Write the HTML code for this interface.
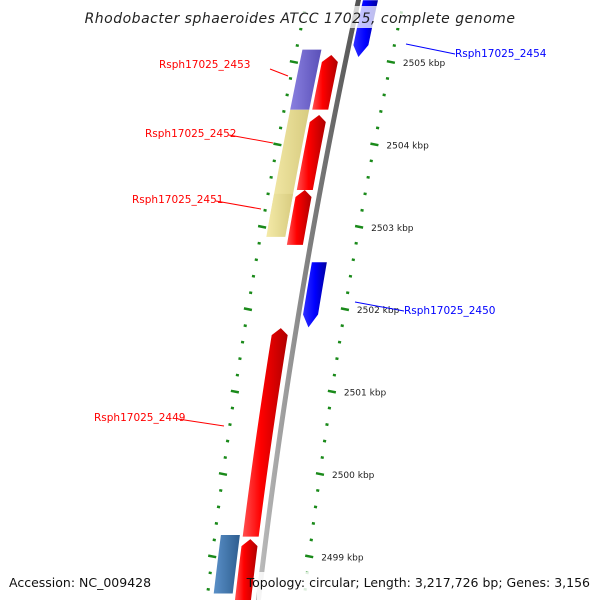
<!DOCTYPE html>
<html><head><meta charset="utf-8"><style>
body{margin:0;background:#fff}
svg{display:block;font-family:"DejaVu Sans","Liberation Sans",sans-serif}
</style></head><body>
<svg id="c" width="600" height="600" viewBox="0 0 600 600">
<defs>
<linearGradient id="gRed" x1="0" x2="1"><stop offset="0" stop-color="#ff5050"/><stop offset="0.4" stop-color="#ff0000"/><stop offset="1" stop-color="#b00000"/></linearGradient>
<linearGradient id="gBlue" x1="0" x2="1"><stop offset="0" stop-color="#3030ff"/><stop offset="0.5" stop-color="#0000ff"/><stop offset="1" stop-color="#0000a0"/></linearGradient>
<linearGradient id="gPur" x1="0" x2="1"><stop offset="0" stop-color="#8a80e0"/><stop offset="1" stop-color="#5a50b8"/></linearGradient>
<linearGradient id="gYel" x1="0" x2="1"><stop offset="0" stop-color="#f4eaa8"/><stop offset="1" stop-color="#d8cc80"/></linearGradient>
<linearGradient id="gSteel" x1="0" x2="1"><stop offset="0" stop-color="#5a90c8"/><stop offset="1" stop-color="#2e5e90"/></linearGradient>
<linearGradient id="gGray" x1="0" x2="1"><stop offset="0" stop-color="#c0c0c0"/><stop offset="0.5" stop-color="#808080"/><stop offset="1" stop-color="#505050"/></linearGradient>
</defs>
<g id="marks"></g>
</svg>
<script>
// data (kbp)
const featNames = ["Rsph17025_2454","f-a","f-b","f-c","f-d","f-e","Rsph17025_2450","Rsph17025_2453","Rsph17025_2452","Rsph17025_2451","f-steel"];
const featStart = [2505.75,2505.085,2504.357,2503.447,2501.77,2499.21,2502.57,2505.15,2504.42,2503.40,2499.26];
const featEnd   = [2505.06,2504.357,2503.447,2502.78,2499.24,2498.47,2501.78,2504.42,2502.82,2502.82,2498.47];
const featTrack = ["rev","fwd","fwd","fwd","fwd","fwd","rev","cog","cog","cog","cog"];
const featFill  = ["gBlue","gRed","gRed","gRed","gRed","gRed","gBlue","gPur","gYel","gYel","gSteel"];
const tickKbp = [2505,2504,2503,2502,2501,2500,2499];
const tickLabels = ["2505 kbp","2504 kbp","2503 kbp","2502 kbp","2501 kbp","2500 kbp","2499 kbp"];

const svg=document.getElementById('c'), g=document.getElementById('marks'), NS="http://www.w3.org/2000/svg";
const Y=k=>62+(2505-k)*82.4;
const BX=y=>357-0.217*y+8.38e-5*y*y;
function mk(t,a,p){const e=document.createElementNS(NS,t);for(const k in a)e.setAttribute(k,a[k]);(p||g).appendChild(e);return e;}
const tracks={fwd:[-22,-6],rev:[6,21],cog:[-44,-25]};

// backbone
let pts=[];for(let y=-5;y<=605;y+=10)pts.push([BX(y),y]);
let poly=pts.map(p=>(p[0]-1)+","+p[1]).concat(pts.slice().reverse().map(p=>(p[0]+4)+","+p[1])).join(" ");
let bb=mk('polygon',{points:poly,fill:"url(#gGray)"});


// ticks
for(let k=2498.4;k<=2505.8;k+=0.2){
  const y=Y(k);const kk=Math.round(k*10)/10;const major=Math.abs(kk-Math.round(kk))<0.01;
  [[-50,'left'],[47,'right']].forEach(([o,s])=>{
    const x=BX(y)+o;const w=major?8:3;
    const t=mk('line',{x1:x-w/2,y1:y-w*0.1,x2:x+w/2,y2:y+w*0.1,stroke:"#1a8a1a","stroke-width":2.5});
    
  });
}
tickKbp.forEach((k,i)=>{const y=Y(k);const t=mk('text',{x:BX(y)+59,y:y+4,"font-size":"9",fill:"#222"});t.textContent=tickLabels[i];
});

// features
featStart.forEach((s,i)=>{
  let y1=Y(s),y2=Y(featEnd[i]);const [o1,o2]=tracks[featTrack[i]];
  const L=[],R=[];
  const arrow=featTrack[i]!="cog";const ah=7;
  let a=y1,b=y2;
  if(featTrack[i]=="fwd")b=y2; // tip at top (y2 smaller? no)
  const top=Math.min(y1,y2),bot=Math.max(y1,y2);
  let ys=top+(featTrack[i]=="fwd"?ah:0), ye=bot-(featTrack[i]=="rev"?ah:0);
  for(let y=ys;y<=ye;y+=(ye-ys)/10){L.push([BX(y)+o1,y]);R.push([BX(y)+o2,y]);}
  let p=[];
  if(featTrack[i]=="fwd"){p.push([BX(top)+(o1+o2)/2,top]);}
  p=p.concat(R);
  if(featTrack[i]=="rev"){p.push([BX(bot)+(o1+o2)/2,bot]);}
  p=p.concat(L.reverse());
  const e=mk('polygon',{points:p.map(q=>q.join(",")).join(" "),fill:"url(#"+featFill[i]+")"});
  
});

// labels
const labs=[["Rsph17025_2453",159,68,270,69,288,76,"red"],["Rsph17025_2452",145,137,229,135,273,143,"red"],["Rsph17025_2451",132,203,216,201,261,209,"red"],["Rsph17025_2449",94,421,178,419,224,426,"red"],["Rsph17025_2454",455,57,455,54,406,44,"blue"],["Rsph17025_2450",404,314,404,311,355,302,"blue"]];
labs.forEach(l=>{const ln=mk('line',{x1:l[3],y1:l[4],x2:l[5],y2:l[6],stroke:l[7],"stroke-width":1});

const t=mk('text',{x:l[1],y:l[2],"font-size":"10.5",fill:l[7]});t.textContent=l[0];
});

// title & footer
let r=mk('rect',{x:98,y:6,width:404,height:22,fill:"#fff","fill-opacity":0.75});

let t=mk('text',{x:300,y:23,"font-size":"14","font-style":"italic","text-anchor":"middle",fill:"#222","letter-spacing":"0.5"});
t.textContent="Rhodobacter sphaeroides ATCC 17025, complete genome";

r=mk('rect',{x:257,y:572,width:343,height:28,fill:"#fff","fill-opacity":0.85});

t=mk('text',{x:9,y:587,"font-size":"12.5",fill:"#111"});t.textContent="Accession: NC_009428";

t=mk('text',{x:590,y:587,"font-size":"12.5",fill:"#111","text-anchor":"end"});t.textContent="Topology: circular; Length: 3,217,726 bp; Genes: 3,156";

</script>
</body></html>
